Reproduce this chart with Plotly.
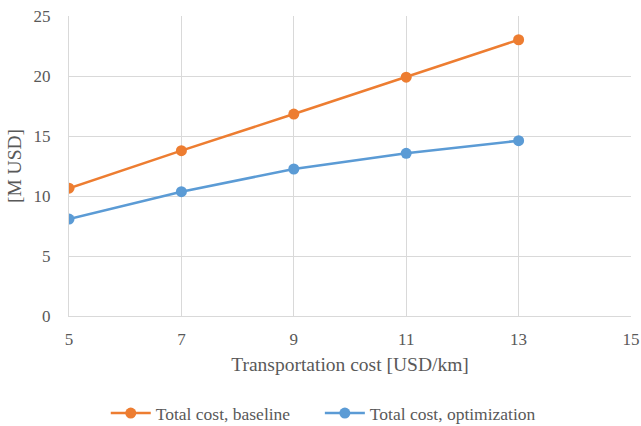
import plotly.graph_objects as go

x_cost = [5, 7, 9, 11, 13]
baseline = [10.65, 13.78, 16.83, 19.9, 23.02]
optimization = [8.08, 10.36, 12.25, 13.56, 14.61]

x_ticks = [5, 7, 9, 11, 13, 15]
y_ticks = [0, 5, 10, 15, 20, 25]

font_family = "Times New Roman"
gray = "#595959"

fig = go.Figure()
fig.add_trace(go.Scatter(x=x_cost, y=baseline, mode="lines+markers",
                         name="Total cost, baseline", legend="legend",
                         line=dict(color="#ED7D31", width=2.5),
                         marker=dict(color="#ED7D31", size=11)))
fig.add_trace(go.Scatter(x=x_cost, y=optimization, mode="lines+markers",
                         name="Total cost, optimization", legend="legend2",
                         line=dict(color="#5B9BD5", width=2.5),
                         marker=dict(color="#5B9BD5", size=11)))

legend_common = dict(orientation="h", xanchor="left", xref="container",
                     y=0.03, yanchor="middle", yref="container",
                     font=dict(family=font_family, size=17.5, color=gray), itemwidth=40)

fig.update_layout(
    width=641, height=426,
    margin=dict(l=69, r=10, t=16, b=110),
    paper_bgcolor="white", plot_bgcolor="white",
    font=dict(family=font_family, color=gray, size=16),
    showlegend=True,
    legend=dict(x=0.165, **legend_common),
    legend2=dict(x=0.499, **legend_common),
    xaxis=dict(range=[5, 15], tickvals=x_ticks, showgrid=True, gridcolor="#D9D9D9",
               gridwidth=1, zeroline=False, showline=True, linecolor="#D9D9D9",
               mirror=False, ticks="", ticklabelstandoff=8, automargin=False,
               tickfont=dict(family=font_family, size=17, color=gray),
               title=dict(text="Transportation cost [USD/km]",
                          font=dict(family=font_family, size=19.5, color=gray),
                          standoff=8)),
    yaxis=dict(range=[0, 25], tickvals=y_ticks, showgrid=True, gridcolor="#D9D9D9",
               gridwidth=1, zeroline=False, showline=True, linecolor="#D9D9D9",
               ticks="", ticklabelstandoff=14, automargin=False,
               tickfont=dict(family=font_family, size=17, color=gray),
               title=dict(text="[M USD]", font=dict(family=font_family, size=19.5, color=gray),
                          standoff=6)),
)

fig.write_html("out.html")
